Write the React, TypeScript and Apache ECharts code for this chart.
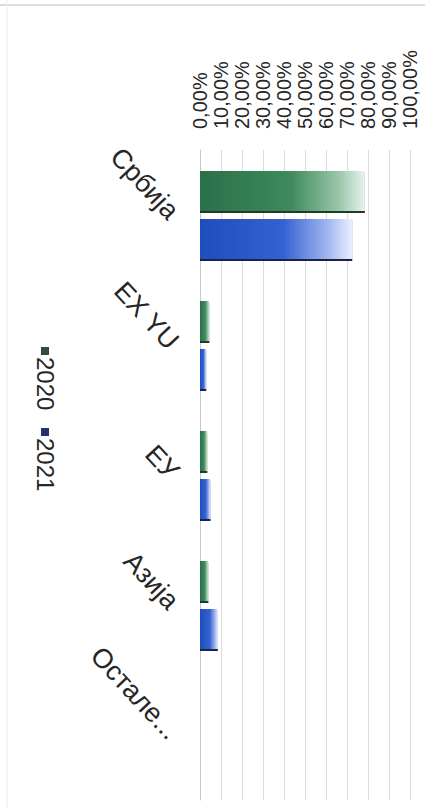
import React, { useEffect, useRef } from 'react';
import * as echarts from 'echarts';

const categories = ['Србија', 'EX YU', 'ЕУ', 'Азија', 'Остале...'];
const values2020 = [78.5, 4.5, 3.5, 4, 0];
const values2021 = [72.5, 3, 5, 8.5, 0];
const seriesNames = ['2020', '2021'];

const FONT = '"Liberation Sans", Arial, sans-serif';

const greenGrad = new echarts.graphic.LinearGradient(0, 0, 1, 0, [
  { offset: 0, color: '#2a7049' },
  { offset: 0.55, color: '#3f8a5c' },
  { offset: 0.85, color: '#9cc9ab' },
  { offset: 1, color: '#e8f3ec' },
]);
const blueGrad = new echarts.graphic.LinearGradient(0, 0, 1, 0, [
  { offset: 0, color: '#1f4dbd' },
  { offset: 0.55, color: '#3562d2' },
  { offset: 0.85, color: '#a6baf2' },
  { offset: 1, color: '#eceffe' },
]);

export default function App() {
  const ref = useRef<HTMLDivElement>(null);
  useEffect(() => {
    if (!ref.current) return;
    const chart = echarts.init(ref.current, undefined, { renderer: 'svg' });
    chart.setOption({
      animation: false,
      backgroundColor: '#ffffff',
      grid: { left: 200, right: 15, top: 150, bottom: 8, containLabel: false },
      xAxis: {
        type: 'value',
        position: 'top',
        min: 0,
        max: 100,
        interval: 10,
        axisLine: { show: false },
        axisTick: { show: false },
        splitLine: { show: true, lineStyle: { color: '#dcdcdc', width: 1 } },
        axisLabel: {
          rotate: -90,
          margin: 21,
          fontSize: 20,
          fontFamily: FONT,
          color: '#262626',
          showMinLabel: true,
          showMaxLabel: true,
          formatter: (v: number) => v.toFixed(2).replace('.', ',') + '%',
        },
      },
      yAxis: {
        type: 'category',
        inverse: true,
        data: categories,
        axisTick: { show: false },
        axisLine: { show: true, lineStyle: { color: '#c8c8c8' } },
        axisLabel: {
          rotate: -47,
          margin: 26,
          fontSize: 27,
          fontFamily: FONT,
          color: '#262626',
          interval: 0,
        },
      },
      series: [
        {
          name: seriesNames[0],
          type: 'bar',
          data: values2020,
          barWidth: 40,
          barGap: '20%',
          itemStyle: {
            color: greenGrad,
            shadowColor: 'rgba(20,45,30,0.95)',
            shadowOffsetY: 2,
            shadowOffsetX: 0,
            shadowBlur: 0,
          },
        },
        {
          name: seriesNames[1],
          type: 'bar',
          data: values2021,
          barWidth: 40,
          itemStyle: {
            color: blueGrad,
            shadowColor: 'rgba(15,25,60,0.95)',
            shadowOffsetY: 2,
            shadowOffsetX: 0,
            shadowBlur: 0,
          },
        },
      ],
      graphic: [
        { type: 'line', shape: { x1: 0, y1: 5, x2: 425, y2: 5 }, style: { stroke: '#dcdcdc', lineWidth: 2 } },
        { type: 'line', shape: { x1: 7, y1: 0, x2: 7, y2: 808 }, style: { stroke: '#ececec', lineWidth: 1 } },
        { type: 'rect', shape: { x: 41, y: 347, width: 8, height: 8 }, style: { fill: '#2f4f3a' } },
        {
          type: 'text',
          x: 45,
          y: 357,
          rotation: -Math.PI / 2,
          style: {
            text: seriesNames[0],
            fontSize: 24,
            fontFamily: FONT,
            fill: '#262626',
            align: 'left',
            verticalAlign: 'middle',
          },
        },
        { type: 'rect', shape: { x: 41, y: 428, width: 8, height: 8 }, style: { fill: '#26307a' } },
        {
          type: 'text',
          x: 45,
          y: 438,
          rotation: -Math.PI / 2,
          style: {
            text: seriesNames[1],
            fontSize: 24,
            fontFamily: FONT,
            fill: '#262626',
            align: 'left',
            verticalAlign: 'middle',
          },
        },
      ],
    });
    return () => chart.dispose();
  }, []);
  return (
    <div
      ref={ref}
      style={{ position: 'fixed', left: 0, top: 0, width: 425, height: 808 }}
    />
  );
}
